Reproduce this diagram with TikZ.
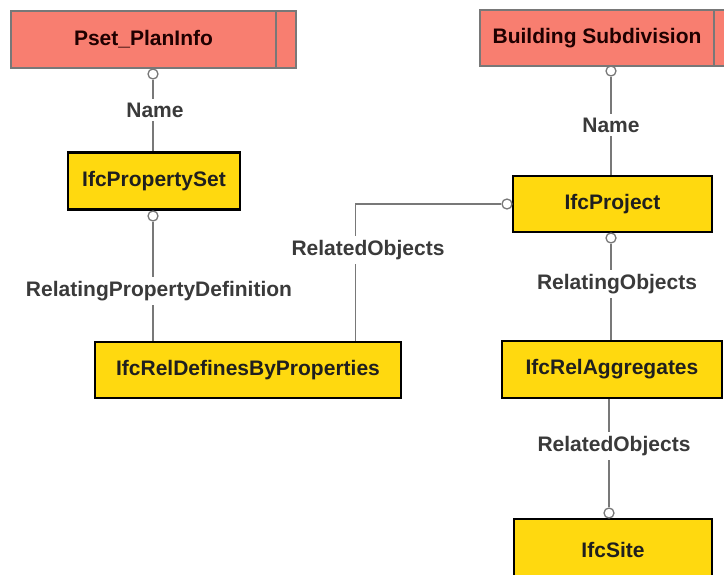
\documentclass[tikz,border=0pt]{standalone}
\usepackage{fontspec}
\setmainfont{Liberation Sans}
\usetikzlibrary{positioning,calc}
\definecolor{salmonbox}{RGB}{248,126,112}
\definecolor{ifcyellow}{RGB}{255,217,15}
\definecolor{conngray}{RGB}{120,120,120}
\definecolor{labelgray}{RGB}{58,58,58}

\begin{document}
\begin{tikzpicture}[
    x=1pt, y=-1pt,
    every node/.style={font=\fontsize{21}{25}\selectfont\bfseries},
    psetbox/.style={rectangle, draw=conngray, line width=1.3pt, fill=salmonbox, text=black!80!red!60!black, minimum height=57pt, inner sep=0pt},
    ifcbox/.style={rectangle, draw=black, line width=2.6pt, fill=ifcyellow, text=black!88, minimum height=57pt, inner sep=0pt},
    ring/.style={circle, draw=conngray, fill=white, line width=1.3pt, minimum size=10pt, inner sep=0pt},
    conn/.style={draw=conngray, line width=1.6pt},
    lbl/.style={fill=white, text=labelgray, inner sep=4pt}
]
    \useasboundingbox (0,0) rectangle (724,575);
    \clip (0,0) rectangle (724,575);

    % entity boxes
    \node[psetbox, minimum width=265pt] (pset) at (143.5,39.5) {Pset\_PlanInfo};
    \node[psetbox, minimum width=20pt] (psetend) at (286,39.5) {};
    \node[psetbox, minimum width=234pt, minimum height=56pt] (bsub) at (597,38) {Building Subdivision};
    \node[psetbox, minimum width=30pt, minimum height=56pt] (bsubend) at (729,38) {};
    \node[ifcbox, minimum width=172pt] (propset) at (154,181) {IfcPropertySet};
    \node[ifcbox, minimum width=306pt, minimum height=56pt] (reldef) at (248,370) {IfcRelDefinesByProperties};
    \node[ifcbox, minimum width=199pt, minimum height=56pt] (project) at (612.5,204) {IfcProject};
    \node[ifcbox, minimum width=220pt] (relagg) at (612,369.5) {IfcRelAggregates};
    \node[ifcbox, minimum width=198pt, minimum height=62pt] (site) at (613,550) {IfcSite};

    % rings
    \node[ring] (r1) at (153,74) {};
    \node[ring] (r2) at (153,216) {};
    \node[ring] (r3) at (611,71) {};
    \node[ring] (r4) at (507,204) {};
    \node[ring] (r5) at (611,238) {};
    \node[ring] (r6) at (609,513) {};

    % connectors
    \draw[conn] (r1.south) -- (r1.south |- propset.north);
    \draw[conn] (r2.south) -- (r2.south |- reldef.north);
    \draw[conn] (r3.south) -- (r3.south |- project.north);
    \draw[conn] (r4.west) -| ([xshift=-47pt]reldef.north east);
    \draw[conn] (r5.south) -- (r5.south |- relagg.north);
    \draw[conn] (relagg.south -| r6.north) -- (r6.north);

    % role labels
    \node[lbl] (name1) at (155,110) {Name};
    \node[lbl] (relprop) at (159,291) {RelatingPropertyDefinition};
    \node[lbl] (relobj1) at (368,250) {RelatedObjects};
    \node[lbl] (name2) at (611,125) {Name};
    \node[lbl] (relating) at (617,284) {RelatingObjects};
    \node[lbl] (relobj2) at (614,446) {RelatedObjects};
\end{tikzpicture}
\end{document}
